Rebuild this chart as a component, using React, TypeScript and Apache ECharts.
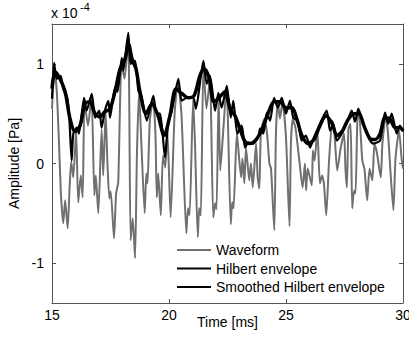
import React, { useEffect, useRef } from "react";
import * as echarts from "echarts";

// Time axis (ms) and amplitude values (x 10^-4 Pa)
const waveT = [
  15.0, 15.11, 15.21, 15.3, 15.38, 15.48, 15.56, 15.67, 15.75, 15.82, 15.91, 16.03, 16.12, 16.23, 16.31, 16.39,
  16.54, 16.69, 16.81, 16.87, 16.98, 17.12, 17.19, 17.29, 17.37, 17.45, 17.51, 17.65, 17.74, 17.83, 17.97, 18.1,
  18.26, 18.36, 18.45, 18.55, 18.63, 18.72, 18.82, 18.96, 19.03, 19.08, 19.18, 19.32, 19.42, 19.48, 19.54, 19.65,
  19.74, 19.84, 19.93, 20.07, 20.24, 20.38, 20.53, 20.6, 20.74, 20.81, 20.88, 21.03, 21.11, 21.23, 21.29, 21.36,
  21.47, 21.6, 21.75, 21.89, 21.97, 22.03, 22.12, 22.19, 22.31, 22.46, 22.64, 22.7, 22.76, 22.9, 23.08, 23.14,
  23.22, 23.29, 23.43, 23.5, 23.58, 23.72, 23.79, 23.86, 23.93, 24.08, 24.19, 24.29, 24.36, 24.5, 24.57, 24.65,
  24.74, 24.85, 25.0, 25.15, 25.21, 25.29, 25.41, 25.57, 25.71, 25.81, 25.86, 25.93, 26.1, 26.15, 26.22, 26.34,
  26.45, 26.54, 26.62, 26.72, 26.84, 26.98, 27.07, 27.19, 27.34, 27.48, 27.54, 27.6, 27.67, 27.76, 27.83, 27.91,
  27.97, 28.05, 28.12, 28.26, 28.35, 28.47, 28.57, 28.69, 28.78, 28.89, 29.05, 29.12, 29.26, 29.36, 29.47, 29.59,
  29.68, 29.83, 29.94, 30.0,
];
const waveV = [
  0.55, 0.95, 0.7, 0.2, -0.3, -0.6, -0.37, -0.65, -0.25, 0.02, -0.14, 0.33, -0.39, -0.12, -0.34, 0.62,
  0.38, 0.68, -0.32, -0.12, -0.5, 0.34, -0.12, 0.52, 0.0, -0.35, -0.28, -0.75, -0.3, -0.19, 1.0, 0.85,
  1.26, -0.77, -0.55, -0.95, 0.1, 0.72, 0.2, -0.5, -0.1, -0.2, 0.43, 0.65, 0.3, -0.34, -0.1, -0.52,
  0.08, -0.04, 0.33, -0.54, 0.5, 0.82, 0.5, 0.1, -0.7, -0.45, -0.52, 0.64, 0.2, -0.74, -0.45, -0.52,
  1.0, 0.55, 0.85, -0.54, -0.4, -0.46, 0.68, -0.07, 0.3, 0.78, -0.61, -0.39, -0.45, 0.3, -0.14, 0.05,
  -0.2, 0.16, -0.17, 0.0, -0.24, 0.2, -0.14, -0.25, 0.33, 0.45, 0.3, 0.0, -0.05, -0.67, 0.3, 0.62,
  0.45, 0.62, 0.26, -0.63, 0.2, 0.45, 0.35, 0.03, -0.24, 0.0, -0.27, -0.05, -0.22, 0.13, 0.03, 0.33,
  -0.2, -0.12, -0.2, -0.52, 0.03, 0.43, 0.3, -0.07, 0.16, 0.3, -0.05, -0.24, 0.35, 0.4, -0.45, -0.27,
  -0.3, 0.43, 0.52, 0.03, -0.05, -0.37, -0.05, -0.17, 0.2, 0.1, -0.14, 0.2, 0.47, 0.3, -0.1, -0.47,
  0.05, 0.33, 0.05, -0.05,
];

const hilbertT = [
  15.0, 15.09, 15.2, 15.37, 15.48, 15.65, 15.74, 15.84, 15.91, 16.06, 16.15, 16.37, 16.48, 16.7, 16.84, 17.02,
  17.12, 17.26, 17.41, 17.48, 17.69, 17.8, 17.98, 18.05, 18.26, 18.36, 18.55, 18.69, 18.82, 19.05, 19.33, 19.47,
  19.62, 19.83, 19.96, 20.12, 20.4, 20.54, 20.76, 21.04, 21.15, 21.47, 21.61, 21.75, 21.89, 21.97, 22.11, 22.25,
  22.47, 22.64, 22.75, 22.92, 23.11, 23.25, 23.39, 23.6, 23.82, 23.89, 24.03, 24.18, 24.32, 24.49, 24.65, 24.82,
  25.0, 25.17, 25.31, 25.5, 25.67, 25.85, 26.03, 26.17, 26.38, 26.74, 26.88, 27.02, 27.17, 27.38, 27.59, 27.81,
  27.95, 28.09, 28.3, 28.59, 28.73, 29.02, 29.23, 29.37, 29.52, 29.73, 29.87, 30.0,
];
const hilbertV = [
  0.65, 1.01, 0.85, 0.88, 0.75, 0.66, 0.46, 0.03, 0.3, 0.36, 0.3, 0.66, 0.53, 0.7, 0.46, 0.53,
  0.36, 0.53, 0.63, 0.46, 0.76, 0.72, 1.06, 0.93, 1.31, 1.0, 1.03, 0.73, 0.68, 0.43, 0.68, 0.5,
  0.5, 0.06, 0.4, 0.53, 0.85, 0.63, 0.66, 0.66, 0.55, 1.03, 0.8, 0.88, 0.66, 0.53, 0.71, 0.56,
  0.78, 0.46, 0.63, 0.3, 0.38, 0.16, 0.21, 0.2, 0.27, 0.35, 0.3, 0.51, 0.43, 0.66, 0.56, 0.66,
  0.5, 0.63, 0.46, 0.43, 0.23, 0.28, 0.16, 0.25, 0.36, 0.53, 0.33, 0.4, 0.23, 0.3, 0.4, 0.53,
  0.42, 0.55, 0.4, 0.23, 0.2, 0.23, 0.51, 0.4, 0.5, 0.3, 0.38, 0.32,
];

const smoothT = [
  15.0, 15.13, 15.34, 15.56, 15.77, 15.98, 16.2, 16.41, 16.62, 16.84, 17.05, 17.26, 17.48, 17.69, 17.91, 18.12,
  18.27, 18.42, 18.59, 18.76, 19.02, 19.27, 19.53, 19.79, 20.04, 20.3, 20.56, 20.81, 21.07, 21.32, 21.5, 21.71,
  21.92, 22.14, 22.39, 22.61, 22.82, 23.03, 23.25, 23.46, 23.72, 23.97, 24.23, 24.49, 24.74, 25.0, 25.26, 25.47,
  25.68, 25.94, 26.2, 26.45, 26.71, 26.97, 27.18, 27.39, 27.65, 27.91, 28.12, 28.33, 28.59, 28.8, 29.02, 29.23,
  29.44, 29.66, 29.87, 30.0,
];
const smoothV = [
  0.75, 0.92, 0.85, 0.72, 0.45, 0.32, 0.38, 0.6, 0.62, 0.5, 0.47, 0.52, 0.55, 0.72, 0.95, 1.05,
  1.2, 1.05, 0.95, 0.72, 0.5, 0.6, 0.48, 0.28, 0.48, 0.75, 0.7, 0.66, 0.68, 0.88, 0.95, 0.86,
  0.62, 0.66, 0.72, 0.55, 0.48, 0.35, 0.22, 0.2, 0.24, 0.34, 0.5, 0.62, 0.62, 0.56, 0.56, 0.44,
  0.28, 0.2, 0.24, 0.38, 0.48, 0.4, 0.28, 0.32, 0.44, 0.5, 0.5, 0.38, 0.25, 0.24, 0.3, 0.46,
  0.45, 0.36, 0.36, 0.33,
];

const yTicks = [-1, 0, 1];
const xTicks = [15, 20, 25, 30];
const seriesNames = ["Waveform", "Hilbert envelope", "Smoothed Hilbert envelope"];

const FONT = "'Liberation Sans', Arial, Helvetica, sans-serif";
const AXIS_COLOR = "#555555";

function pairs(t: number[], v: number[]) {
  return t.map((x, i) => [x, v[i]]);
}

export default function App() {
  const ref = useRef<HTMLDivElement>(null);
  useEffect(() => {
    const chart = echarts.init(ref.current!, null, { renderer: "svg" });
    const xBase = {
      type: "value" as const,
      min: xTicks[0],
      max: xTicks[xTicks.length - 1],
      interval: 5,
      splitLine: { show: false },
      axisLine: { show: true, onZero: false, lineStyle: { color: AXIS_COLOR, width: 1 } },
      axisTick: { show: true, inside: true, length: 4, lineStyle: { color: AXIS_COLOR } },
    };
    const yBase = {
      type: "value" as const,
      min: -1.4,
      max: 1.4,
      splitLine: { show: false },
      axisLine: { show: true, onZero: false, lineStyle: { color: AXIS_COLOR, width: 1 } },
      axisTick: {
        show: true,
        inside: true,
        length: 4,
        customValues: yTicks,
        lineStyle: { color: AXIS_COLOR },
      },
    };
    chart.setOption({
      animation: false,
      backgroundColor: "#ffffff",
      textStyle: { fontFamily: FONT },
      grid: {
        left: 52,
        right: 6,
        top: 24,
        bottom: 38,
        containLabel: false,
        outerBoundsMode: "none",
      },
      legend: {
        data: seriesNames,
        orient: "vertical",
        left: 176,
        top: 243,
        padding: 0,
        itemWidth: 34,
        itemHeight: 12,
        itemGap: 4.5,
        itemStyle: { opacity: 0 },
        textStyle: { fontSize: 14, color: "#000", fontFamily: FONT },
        selectedMode: false,
      },
      xAxis: [
        {
          ...xBase,
          position: "bottom",
          name: "Time [ms]",
          nameLocation: "middle",
          nameGap: 12,
          nameMoveOverlap: false,
          nameTextStyle: {
            fontSize: 14,
            color: "#000",
            fontFamily: FONT,
            verticalAlign: "top",
          },
          axisLabel: { show: true, fontSize: 14, color: "#000", margin: 5, fontFamily: FONT },
        },
        {
          ...xBase,
          position: "top",
          axisLabel: { show: false },
        },
      ],
      yAxis: [
        {
          ...yBase,
          position: "left",
          name: "Amplitude [Pa]",
          nameLocation: "middle",
          nameGap: 31,
          nameMoveOverlap: false,
          nameTextStyle: { fontSize: 14, color: "#000", fontFamily: FONT },
          axisLabel: {
            show: true,
            fontSize: 14,
            color: "#000",
            margin: 8,
            customValues: yTicks,
            formatter: (v: number) => String(v),
            fontFamily: FONT,
          },
        },
        {
          ...yBase,
          position: "right",
          axisLabel: { show: false },
        },
      ],
      graphic: [
        {
          type: "text",
          left: 51,
          top: 6,
          style: { text: "x 10", fontSize: 14, fill: "#000", fontFamily: FONT },
        },
        {
          type: "text",
          left: 80,
          top: 1,
          style: { text: "-4", fontSize: 11, fill: "#000", fontFamily: FONT },
        },
      ],
      series: [
        {
          name: seriesNames[0],
          type: "line",
          data: pairs(waveT, waveV),
          showSymbol: false,
          symbol: "none",
          smooth: 0.2,
          lineStyle: { color: "#707070", width: 2 },
          itemStyle: { color: "#707070" },
        },
        {
          name: seriesNames[1],
          type: "line",
          data: pairs(hilbertT, hilbertV),
          showSymbol: false,
          symbol: "none",
          smooth: 0.2,
          lineStyle: { color: "#000", width: 2.2 },
          itemStyle: { color: "#000" },
        },
        {
          name: seriesNames[2],
          type: "line",
          data: pairs(smoothT, smoothV),
          showSymbol: false,
          symbol: "none",
          smooth: 0.3,
          lineStyle: { color: "#000", width: 3.5 },
          itemStyle: { color: "#000" },
        },
      ],
    });
    return () => chart.dispose();
  }, []);
  return (
    <div
      ref={ref}
      style={{ position: "fixed", left: 0, top: 0, width: 409, height: 341, background: "#fff" }}
    />
  );
}
